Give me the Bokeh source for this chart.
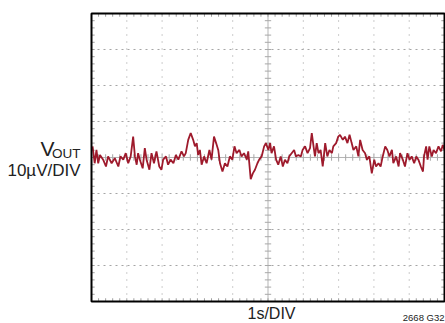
import numpy as np
from bokeh.plotting import figure
from bokeh.core.properties import value
from bokeh.embed import file_html
from bokeh.resources import INLINE

# time in seconds (1 s/DIV), output noise in microvolts (10 uV/DIV)
t_s = [0.03, 0.09, 0.14, 0.19, 0.24, 0.33, 0.41, 0.47, 0.57, 0.66, 0.76, 0.82, 0.90, 0.97,
       1.04, 1.11, 1.18, 1.23, 1.28, 1.32, 1.37, 1.45, 1.51, 1.56, 1.64, 1.70, 1.77, 1.84, 1.92, 1.98,
       2.03, 2.11, 2.17, 2.24, 2.32, 2.39, 2.46, 2.55, 2.62, 2.67, 2.74, 2.81, 2.88, 2.93, 2.98,
       3.02, 3.07, 3.12, 3.19, 3.26, 3.34, 3.40, 3.47, 3.53, 3.59, 3.64, 3.71, 3.78, 3.85, 3.92, 3.99,
       4.05, 4.11, 4.19, 4.25, 4.32, 4.40, 4.44, 4.51, 4.57, 4.63, 4.70, 4.75, 4.82, 4.89, 4.94,
       5.01, 5.06, 5.10, 5.17, 5.23, 5.29, 5.36, 5.42, 5.48, 5.55, 5.60, 5.67, 5.74, 5.79, 5.86, 5.93, 5.98,
       6.05, 6.12, 6.19, 6.24, 6.29, 6.33, 6.38, 6.43, 6.49, 6.55, 6.62, 6.68, 6.74, 6.81, 6.85, 6.93, 6.99,
       7.04, 7.12, 7.18, 7.25, 7.31, 7.37, 7.42, 7.50, 7.56, 7.61, 7.68, 7.75, 7.80, 7.87, 7.94,
       8.01, 8.06, 8.13, 8.19, 8.25, 8.32, 8.38, 8.44, 8.51, 8.55, 8.63, 8.70, 8.74, 8.82, 8.88, 8.95,
       9.01, 9.07, 9.14, 9.20, 9.26, 9.33, 9.39, 9.42, 9.48, 9.52, 9.57, 9.64, 9.69, 9.76, 9.83, 9.90, 9.95, 10.0]
vout_uv = [3.1, -1.6, 2.1, -1.6, 0.7, -0.6, -2.5, 0.3, -1.6, -0.2, -2.5, 0.3, -0.6, 1.2,
           -1.6, 0.3, 5.8, 0.3, -2.0, 1.2, -0.6, -3.0, 2.6, -0.6, -3.4, 1.2, -1.6, 1.7, -2.5, -3.4,
           -0.6, 0.3, -2.0, -0.6, -1.6, 0.7, -0.6, 1.7, 0.3, 1.2, 4.9, 6.8, 4.9, 3.1, 4.0,
           0.7, 2.1, -2.0, 0.3, -1.6, 2.1, -0.6, 5.8, 4.0, 2.1, -1.6, -3.9, -1.6, -2.5, 0.3, -0.6,
           3.1, 1.2, 2.1, 0.3, 1.2, -0.6, 1.7, -6.0, -4.4, -3.4, -1.6, -0.6, 0.3, 3.1, 4.0,
           2.1, 4.0, 1.2, 3.1, -0.6, -2.0, 0.3, -2.5, -0.6, -1.6, 0.3, 1.2, 2.1, 0.3, 0.7, 0.3, 2.1,
           3.1, 1.2, 2.6, 6.8, 3.1, 0.3, 4.0, 1.2, 2.1, -2.5, 4.0, 0.3, 2.1, 1.2, 3.1, 4.0, 5.8,
           6.3, 4.9, 5.8, 4.0, 6.3, 4.0, 2.1, 3.1, 0.3, 4.9, 2.1, 1.2, -0.6, 0.3, -4.4,
           -0.6, -2.5, -1.6, -2.5, 0.3, 3.1, 2.1, 0.3, 2.1, -1.6, 0.3, -2.5, 1.2, -0.6, -2.5, 1.2,
           -0.6, 0.3, -1.6, 0.3, -0.6, -2.5, -3.9, 0.3, 3.1, -0.6, 3.1, 0.3, 2.1, 1.2, 3.1, 1.7, 3.5, 2.1]

x_divs = list(range(0, 11))          # seconds, 1 s/DIV
y_divs = list(range(-40, 41, 10))    # microvolts, 10 uV/DIV
y_label_lines = ["V", "OUT", "10µV/DIV"]
x_label = "1s/DIV"
fig_id = "2668 G32"

FONT = "Liberation Sans"
TXT = "#222222"

# whole canvas is the plotting frame; screen-graticule drawn as glyphs
p = figure(frame_width=445, frame_height=323, x_range=(-2.578, 10.028), y_range=(-46.11, 43.61),
           x_axis_type=None, y_axis_type=None, toolbar_location=None,
           output_backend="svg", min_border=0)
p.outline_line_color = None
p.background_fill_color = "white"

x0, x1 = x_divs[0], x_divs[-1]
y0, y1 = y_divs[0], y_divs[-1]

# dotted grid
gx = [x for x in x_divs[1:-1] if x != 5]
gy = [y for y in y_divs[1:-1] if y != 0]
p.segment(x0=gx, x1=gx, y0=[y0] * len(gx), y1=[y1] * len(gx),
          line_color="#9a9a9a", line_width=1, line_dash="1 6")
p.segment(x0=[x0] * len(gy), x1=[x1] * len(gy), y0=gy, y1=gy,
          line_color="#a5a5a5", line_width=1, line_dash="2 4")

# centre crosshair with small ticks
p.segment(x0=[5], x1=[5], y0=[y0], y1=[y1], line_color="#b5b5b5", line_width=1)
p.segment(x0=[x0], x1=[x1], y0=[0], y1=[0], line_color="#b5b5b5", line_width=1)
mx = np.arange(x0, x1 + 0.001, 0.2)
my = np.arange(y0, y1 + 0.001, 2)
tx = 0.09
ty = 0.9
p.segment(x0=mx, x1=mx, y0=-ty, y1=ty, line_color="#a8a8a8", line_width=1)
p.segment(x0=5 - tx, x1=5 + tx, y0=my, y1=my, line_color="#a8a8a8", line_width=1)
# border ticks
p.segment(x0=mx, x1=mx, y0=y1, y1=y1 - ty, line_color="#a0a0a0", line_width=1)
p.segment(x0=mx, x1=mx, y0=y0, y1=y0 + ty, line_color="#a0a0a0", line_width=1)
p.segment(x0=x0, x1=x0 + tx, y0=my, y1=my, line_color="#a0a0a0", line_width=1)
p.segment(x0=x1, x1=x1 - tx, y0=my, y1=my, line_color="#a0a0a0", line_width=1)

# trace
p.line(t_s, vout_uv, line_color="#9e1a2c", line_width=1.8)

# border
p.quad(left=[x0], right=[x1], bottom=[y0], top=[y1], fill_color=None,
       line_color="black", line_width=2)

# labels
p.text(x=[-1.05], y=[2.4], text=[y_label_lines[0]], text_align="right", text_baseline="middle",
       text_font=value(FONT), text_font_size="21px", text_color=TXT)
p.text(x=[-0.31], y=[1.2], text=[y_label_lines[1]], text_align="right", text_baseline="middle",
       text_font=value(FONT), text_font_size="13.5px", text_color=TXT)
p.text(x=[-0.31], y=[-3.6], text=[y_label_lines[2]], text_align="right", text_baseline="middle",
       text_font=value(FONT), text_font_size="17px", text_color=TXT)
p.text(x=[5.1], y=[-43.4], text=[x_label], text_align="center", text_baseline="alphabetic",
       text_font=value(FONT), text_font_size="16px", text_color=TXT)
p.text(x=[10.0], y=[-44.4], text=[fig_id], text_align="right", text_baseline="alphabetic",
       text_font=value(FONT), text_font_size="9.5px", text_color=TXT)

open("out.html", "w").write(file_html(p, INLINE))
